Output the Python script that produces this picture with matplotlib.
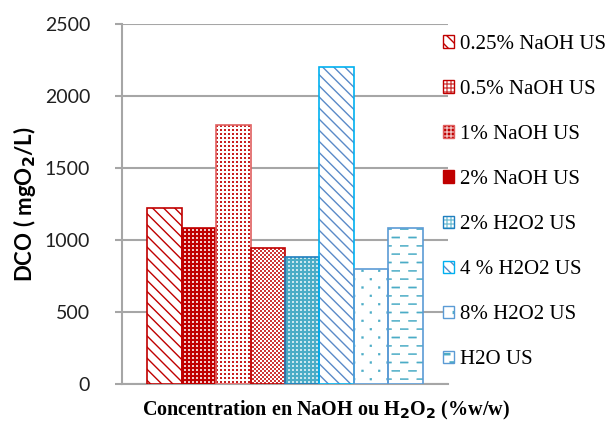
import matplotlib
matplotlib.use("Agg")
import matplotlib.pyplot as plt
import matplotlib.hatch as mhatch
from matplotlib.path import Path
import numpy as np

# COD measured after ultrasound pretreatment
labels = ["0.25% NaOH US", "0.5% NaOH US", "1% NaOH US", "2% NaOH US",
          "2% H2O2 US", "4 % H2O2 US", "8% H2O2 US", "H2O US"]
dco = [1220, 1085, 1800, 945, 880, 2200, 800, 1085]
yticks = [0, 500, 1000, 1500, 2000, 2500]


# ---- extra hatch patterns: grids of small rectangles --------------------
def _grid_hatch(char, nx, ny, w, h, stagger):
    class GridHatch(mhatch.HatchPatternBase):
        def __init__(self, hatch, density):
            self.on = char in hatch
            self.num_vertices = nx * ny * 5 if self.on else 0

        def set_vertices_and_codes(self, vertices, codes):
            k = 0
            for j in range(ny):
                yc = (j + 0.5) / ny
                shift = 0.5 / nx if (stagger and j % 2) else 0.0
                for i in range(nx):
                    xc = (i + 0.25) / nx + shift
                    vertices[k:k + 5] = [(xc - w / 2, yc - h / 2),
                                         (xc + w / 2, yc - h / 2),
                                         (xc + w / 2, yc + h / 2),
                                         (xc - w / 2, yc + h / 2),
                                         (xc - w / 2, yc - h / 2)]
                    codes[k:k + 5] = [Path.MOVETO, Path.LINETO, Path.LINETO,
                                      Path.LINETO, Path.CLOSEPOLY]
                    k += 5
    return GridHatch


mhatch._hatch_types.extend([
    _grid_hatch(":", 25, 25, 0.016, 0.016, False),   # fine square dots
    _grid_hatch(";", 25, 50, 0.017, 0.017, True),    # fine checkerboard
    _grid_hatch(",", 6, 12, 0.018, 0.018, True),     # sparse dots
    _grid_hatch("_", 6, 12, 0.08, 0.012, True),      # staggered dashes
])
mhatch._validate_hatch_pattern = lambda hatch: None

# (face colour, hatch pattern, hatch colour, hatch width, edge colour)
styles = [
    ("white",   "\\\\\\",   "#C00000", 1.0, "#C00000"),
    ("#C00000", ":",        "white",   0.2, "#C00000"),
    ("white",   ":",        "#C00000", 0.3, "#E06060"),
    ("white",   ";",        "#C00000", 0.1, "#C00000"),
    ("#4BACC6", ":",        "white",   0.1, "#1F7FBF"),
    ("white",   "\\\\\\",   "#5A8AC8", 1.0, "#00B0F0"),
    ("white",   ",",        "#4BACC6", 0.3, "#5B9BD5"),
    ("white",   "_",        "#4BACC6", 0.3, "#5B9BD5"),
]

fig = plt.figure(figsize=(6.09, 4.21), dpi=100)
ax = fig.add_axes([122 / 609, 1 - 384 / 421, 326 / 609, 360 / 421])

x = np.arange(len(dco))
handles = []
for xi, val, lab, (fc, hatch, hc, hw, ec) in zip(x, dco, labels, styles):
    with plt.rc_context({"hatch.linewidth": hw}):
        # hatch layer (hatch is drawn in the edge colour)
        bars = ax.bar(xi, val, width=1.0, color=fc, edgecolor=hc,
                      hatch=hatch, linewidth=0, zorder=3)
        h_fill = plt.Rectangle((0, 0), 1, 1, facecolor=fc, edgecolor=hc,
                               hatch=hatch, linewidth=0)
    for p in list(bars) + [h_fill]:
        if hasattr(p, "set_hatch_linewidth"):
            p.set_hatch_linewidth(hw)
    # outline
    ax.bar(xi, val, width=1.0, color="none", edgecolor=ec, linewidth=1.2,
           zorder=4)
    h_edge = plt.Rectangle((0, 0), 1, 1, facecolor="none", edgecolor=ec,
                           linewidth=1.0)
    handles.append((h_fill, h_edge))

ax.set_xlim(-0.5 - 0.74, 7.5 + 0.74)
ax.set_ylim(0, 2500)
ax.set_yticks(yticks)
ax.set_yticklabels([str(t) for t in yticks], fontfamily="Lato", fontsize=14,
                   color="#202020")
ax.set_xticks([])
ax.yaxis.grid(True, color="#A6A6A6", linewidth=1.5, zorder=0)
ax.set_axisbelow(True)
for s in ["top", "right"]:
    ax.spines[s].set_visible(False)
for s in ["left", "bottom"]:
    ax.spines[s].set_color("#A6A6A6")
    ax.spines[s].set_linewidth(1.5)
ax.tick_params(axis="y", length=5, width=1.5, color="#A6A6A6", pad=18)

ax.set_ylabel(r"DCO ( mgO$_\mathbf{2}$/L)", fontfamily="Lato",
              fontweight="bold", fontsize=16)
ax.yaxis.set_label_coords((38 - 122) / 326, 0.5)

fig.text(326 / 609, 1 - 415 / 421,
         r"Concentration en NaOH ou H$_\mathbf{2}$O$_\mathbf{2}$ (%w/w)",
         fontfamily="Liberation Serif", fontweight="bold", fontsize=14.5,
         ha="center", va="baseline")

leg = fig.legend(handles, labels, loc="upper left",
                 bbox_to_anchor=(443 / 609, 1 - 35 / 421),
                 frameon=False, prop={"family": "Liberation Serif", "size": 15},
                 handlelength=0.55, handleheight=0.55, handletextpad=0.25,
                 labelspacing=1.25, borderpad=0, borderaxespad=0)

fig.savefig("out.png", dpi=100)
